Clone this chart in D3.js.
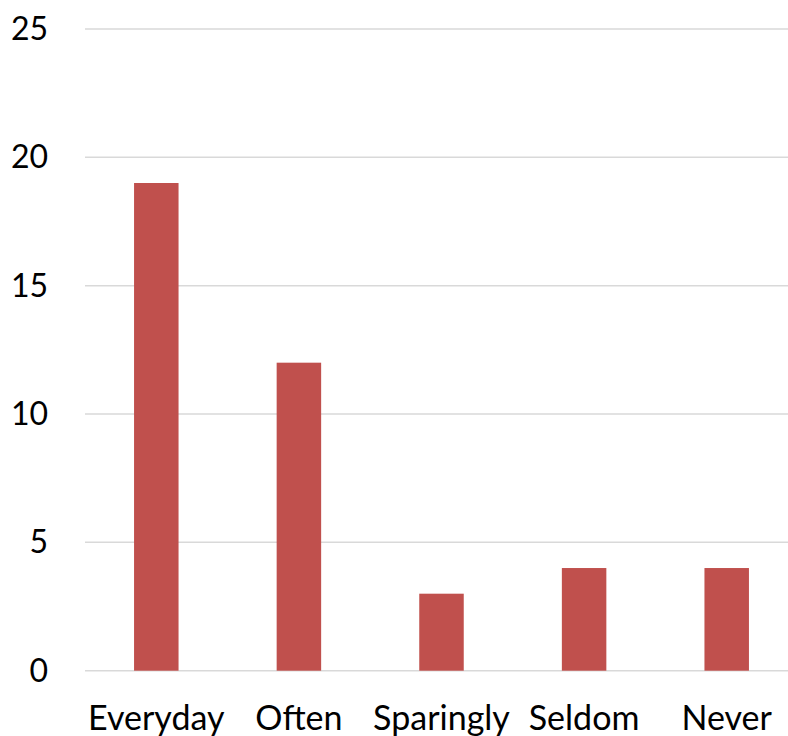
<!DOCTYPE html>
<html>
<head>
<meta charset="utf-8">
<script src="https://cdn.jsdelivr.net/npm/d3@7/dist/d3.min.js"></script>
<style>
  html, body { margin: 0; padding: 0; background: #fff; }
  svg { display: block; }
  text { font-family: Lato, "Open Sans", sans-serif; fill: #000; }
</style>
</head>
<body>
<svg id="chart" width="788" height="736"></svg>
<script>
// Responses per frequency category
const categories = ["Everyday", "Often", "Sparingly", "Seldom", "Never"];
const counts = [19, 12, 3, 4, 4];
const yTicks = [0, 5, 10, 15, 20, 25];

const svg = d3.select("#chart");

const x = d3.scaleBand()
  .domain(categories)
  .range([85, 798])
  .paddingInner(0.688)
  .paddingOuter(0.344);

const y = d3.scaleLinear()
  .domain([0, 25])
  .range([670.7, 29]);

// Horizontal gridlines
svg.append("g")
  .selectAll("line")
  .data(yTicks)
  .join("line")
  .attr("x1", 85)
  .attr("x2", 798)
  .attr("y1", d => y(d))
  .attr("y2", d => y(d))
  .attr("stroke", "#d9d9d9")
  .attr("stroke-width", 1.5);

// Bars
svg.append("g")
  .selectAll("rect")
  .data(categories)
  .join("rect")
  .attr("x", d => x(d))
  .attr("width", x.bandwidth())
  .attr("y", (d, i) => y(counts[i]))
  .attr("height", (d, i) => y(0) - y(counts[i]))
  .attr("fill", "#c0504d");

// Y axis labels
svg.append("g")
  .selectAll("text")
  .data(yTicks)
  .join("text")
  .attr("x", 48)
  .attr("y", d => y(d) + 11)
  .attr("text-anchor", "end")
  .attr("font-size", 32)
  .text(d => d);

// Category labels
svg.append("g")
  .selectAll("text")
  .data(categories)
  .join("text")
  .attr("x", d => x(d) + x.bandwidth() / 2)
  .attr("y", 730)
  .attr("text-anchor", "middle")
  .attr("font-size", 34)
  .text(d => d);
</script>
</body>
</html>
